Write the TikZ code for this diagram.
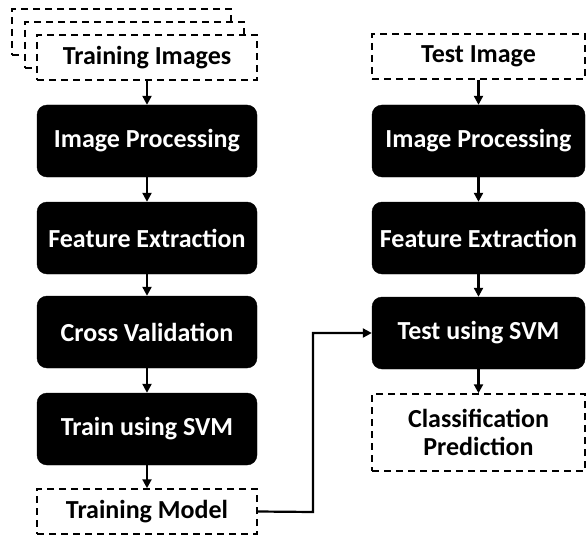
\documentclass[tikz,border=0pt]{standalone}
\usepackage{fontspec}
\setmainfont{Carlito}
\usetikzlibrary{arrows.meta}
\begin{document}
\begin{tikzpicture}[x=1pt,y=-1pt,
  blk/.style={draw=black,fill=black,rounded corners=10pt,text=white,font=\fontsize{26}{28}\selectfont\bfseries,minimum height=72pt,inner sep=0pt,align=center},
  dbox/.style={draw=black,dash pattern=on 7pt off 5pt,line width=1.5pt,fill=white,font=\fontsize{26}{28}\selectfont\bfseries,inner sep=0pt,align=center},
  arr/.style={line width=2.2pt,-{Triangle[length=9pt,width=9pt]}}]
\useasboundingbox (0,0) rectangle (587,535);
% stacked training images
\node[dbox,minimum width=219pt,minimum height=46pt] (ti3) at (121.5,32) {};
\node[dbox,minimum width=219pt,minimum height=46pt] (ti2) at (134.5,45) {};
\node[dbox,minimum width=220pt,minimum height=45pt] (ti) at (147,57.5) {Training Images};
% left column
\node[blk,minimum width=220pt] (ip1) at (147,141) {Image Processing};
\node[blk,minimum width=220pt] (fe1) at (147,238) {Feature Extraction};
\node[blk,minimum width=220pt] (cv) at (147,332) {Cross Validation};
\node[blk,minimum width=220pt] (tr) at (147,429) {Train using SVM};
\node[dbox,minimum width=220pt,minimum height=45pt] (tm) at (147,511.5) {Training Model};
% right column
\node[dbox,minimum width=213pt,minimum height=45pt] (test) at (478.5,56.5) {Test Image};
\node[blk,minimum width=213pt] (ip2) at (478.5,141) {Image Processing};
\node[blk,minimum width=213pt] (fe2) at (478.5,238) {Feature Extraction};
\node[blk,minimum width=213pt] (ts) at (478.5,333) {Test using SVM};
\node[dbox,minimum width=213pt,minimum height=77pt] (cp) at (478.5,432.5) {Classification\\Prediction};
% arrows
\draw[arr] (ti) -- (ip1);
\draw[arr] (ip1) -- (fe1);
\draw[arr] (fe1) -- (cv);
\draw[arr] (cv) -- (tr);
\draw[arr] (tr) -- (tm);
\draw[arr] (test) -- (ip2);
\draw[arr] (ip2) -- (fe2);
\draw[arr] (fe2) -- (ts);
\draw[arr] (ts) -- (cp);
\coordinate (k) at (313,512);
\draw[arr] (tm.east) -- (k) |- (ts.west);
\end{tikzpicture}
\end{document}
